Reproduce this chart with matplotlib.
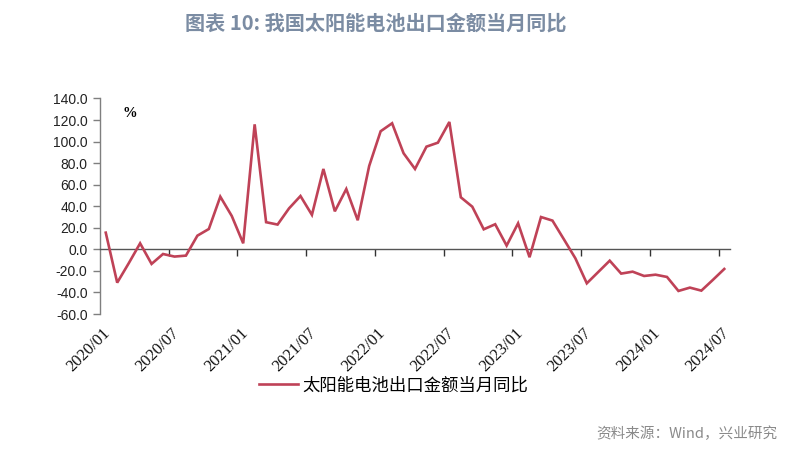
import matplotlib

matplotlib.use("Agg")

import matplotlib.pyplot as plt
import matplotlib.transforms as mtransforms
import numpy as np

plt.rcParams["font.serif"] = ["Liberation Serif", "DejaVu Serif"]

# 月度数据：2020/01 - 2024/07
months = [f"{y}/{m:02d}" for y in range(2020, 2025) for m in range(1, 13)][:55]
yoy = [
    15.5, -30.9, -13.0, 5.6, -13.5, -4.3, -6.7, -5.8, 12.7, 18.9, 48.9, 31.0,
    5.6, 116.0, 25.2, 23.0, 38.0, 49.5, 32.0, 74.6, 35.3, 56.0, 27.0, 77.4,
    109.6, 117.0, 89.2, 74.6, 95.3, 99.0, 118.2, 48.3, 39.6, 18.6, 23.3, 3.5,
    24.2, -7.3, 30.0, 26.7, 9.3, -8.3, -31.5, -21.0, -10.5, -22.5, -20.7, -24.7,
    -23.5, -25.6, -38.6, -35.5, -38.3, -28.4, -18.2,
]
series_name = "太阳能电池出口金额当月同比"
title = "图表 10: 我国太阳能电池出口金额当月同比"
source = "资料来源：Wind，兴业研究"
y_ticks = [-60, -40, -20, 0, 20, 40, 60, 80, 100, 120, 140]

CJK = ["Noto Sans CJK SC", "DejaVu Sans"]
LINE_COLOR = "#bf4257"
AXIS_GRAY = "#7f7f7f"

fig = plt.figure(figsize=(7.92, 4.53), dpi=100, facecolor="white")
ax = fig.add_axes([0.1263, 0.3068, 0.7954, 0.4758])

x = np.arange(len(months))
ax.plot(x, yoy, color=LINE_COLOR, linewidth=1.9, solid_joinstyle="miter",
        label=series_name, zorder=3)

ax.set_xlim(-0.5, len(months) - 0.5)
ax.set_ylim(-60, 140)
ax.set_yticks(y_ticks)
ax.set_yticklabels([f"{v:.1f}" for v in y_ticks], fontsize=10,
                   family="Liberation Sans", color="#222222")

for side in ("top", "right"):
    ax.spines[side].set_visible(False)
ax.spines["left"].set_color(AXIS_GRAY)
ax.spines["left"].set_linewidth(1.0)
ax.spines["bottom"].set_position(("data", 0))
ax.spines["bottom"].set_color("#555555")
ax.spines["bottom"].set_linewidth(1.0)

ax.tick_params(axis="y", direction="out", length=5, width=1.0,
               color=AXIS_GRAY, pad=4)
# 刻度线位于类别分界处，标签位于类别处
ax.set_xticks(np.arange(5.5, len(months) - 0.5, 6))
ax.set_xticklabels([])
ax.tick_params(axis="x", direction="out", length=5, width=1.0, color="#333333")

trans = mtransforms.blended_transform_factory(ax.transData, ax.transAxes)
for i in range(0, len(months), 6):
    ax.text(i - 0.3, -0.05, months[i], transform=trans, rotation=45,
            rotation_mode="anchor", ha="right", va="top", fontsize=12,
            family="Liberation Serif", color="#111111")

ax.text(0.035, 0.93, "%", transform=ax.transAxes, fontsize=10.5,
        family="Liberation Serif", fontweight="bold", ha="left", va="center")

fig.text(0.475, 0.95, title, ha="center", va="center", fontsize=14.5,
         fontweight="bold", color="#7b8ca3", family=CJK)
fig.text(0.981, 0.042, source, ha="right", va="center", fontsize=10.5,
         color="#8a8a8a", family=CJK)

fig.legend(loc="center", bbox_to_anchor=(0.497, 0.149), frameon=False,
           prop={"family": CJK, "size": 12.5, "weight": "light"},
           handlelength=2.25, handletextpad=0.25, borderaxespad=0)

fig.savefig("out.png", dpi=100, facecolor="white")
plt.close(fig)
